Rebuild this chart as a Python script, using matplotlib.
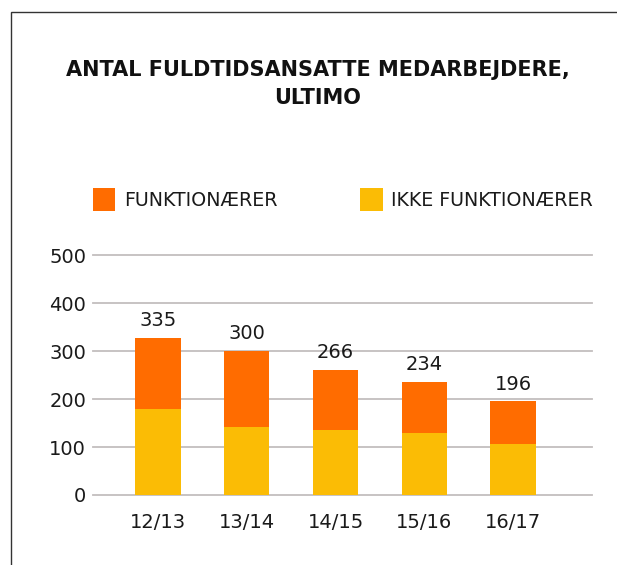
import matplotlib
matplotlib.use("Agg")
import matplotlib.pyplot as plt
from matplotlib.patches import Rectangle
import numpy as np

categories = ["12/13", "13/14", "14/15", "15/16", "16/17"]
ikke_funktionaerer = [180, 142, 136, 130, 106]
funktionaerer = [148, 159, 125, 106, 90]
total_labels = ["335", "300", "266", "234", "196"]
series_names = ["FUNKTIONÆRER", "IKKE FUNKTIONÆRER"]
y_ticks = [0, 100, 200, 300, 400, 500]
title = "ANTAL FULDTIDSANSATTE MEDARBEJDERE,\nULTIMO"

ORANGE = "#FF6C00"
YELLOW = "#FBBC05"
GRID = "#C3BEBE"
TXT = "#1A1A1A"

W, H = 617, 565
fig = plt.figure(figsize=(W / 100, H / 100), dpi=100)
plt.rcParams['font.family'] = ['DejaVu Sans']

# outer frame (only top and left edges visible)
fig.patches.append(Rectangle((11 / W, -0.1), 1.2, 1 - 12 / H + 0.1,
                             transform=fig.transFigure, fill=False,
                             edgecolor="#333333", linewidth=1.0))

ax = fig.add_axes([93 / W, 1 - 495 / H, (592 - 93) / W, (495 - 255.5) / H])
x = np.arange(len(categories))
bw = 0.51
b1 = ax.bar(x, ikke_funktionaerer, bw, color=YELLOW, zorder=3, label=series_names[1])
b2 = ax.bar(x, funktionaerer, bw, bottom=ikke_funktionaerer, color=ORANGE, zorder=3,
            label=series_names[0])

ax.set_xlim(-0.733, 4.89)
ax.set_ylim(0, 500)
ax.set_yticks(y_ticks)
ax.set_xticks(x)
ax.set_xticklabels(categories)
ax.yaxis.grid(True, color=GRID, linewidth=1.3, zorder=0)
for gl in ax.get_ygridlines():
    gl.set_clip_on(False)
ax.set_axisbelow(True)
for s in ax.spines.values():
    s.set_visible(False)
ax.tick_params(axis='both', length=0, labelsize=14, colors=TXT)
ax.tick_params(axis='y', pad=5)
ax.tick_params(axis='x', pad=13)

tops = np.array(ikke_funktionaerer) + np.array(funktionaerer)
for xi, t, lab in zip(x, tops, total_labels):
    ax.annotate(lab, (xi, t), xytext=(0, 8.3), textcoords='offset points',
                ha='center', va='baseline', fontsize=14, color=TXT,
                annotation_clip=False)

leg = ax.legend(handles=[b2, b1], labels=series_names, ncol=2, frameon=False,
                loc='center left', bbox_to_anchor=(93 / W, 1 - 199.5 / H),
                bbox_transform=fig.transFigure, fontsize=13.7,
                handlelength=1.18, handleheight=1.44, handletextpad=0.45,
                columnspacing=4.35, borderpad=0, borderaxespad=0)
for t in leg.get_texts():
    t.set_color(TXT)

fig.text(317.5 / W, 1 - 59.5 / H, title, ha='center', va='top', fontsize=15,
         fontweight='bold', color="#111111", linespacing=1.55)

fig.savefig("out.png", dpi=100)
